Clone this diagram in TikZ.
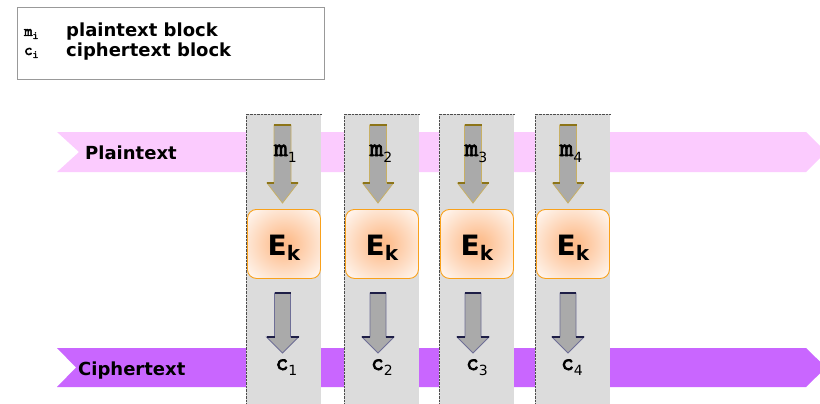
\documentclass[tikz,border=0pt]{standalone}
\usepackage{fontspec}
\setmainfont{DejaVu Sans}
\newfontfamily\slabmono{lmmono10-regular.otf}[FakeBold=3]
\usetikzlibrary{positioning}
\definecolor{plainband}{HTML}{FBCBFE}
\definecolor{cipherband}{HTML}{C966FF}
\definecolor{colgray}{HTML}{DCDCDC}
\definecolor{arrowgray}{HTML}{AAAAAA}
\definecolor{plainedge}{HTML}{C8B064}
\definecolor{plaindark}{HTML}{8C7418}
\definecolor{cipheredge}{HTML}{6E6E96}
\definecolor{cipherdark}{HTML}{1E1E46}
\definecolor{encedge}{HTML}{F9A11B}
\definecolor{encglow}{HTML}{FDBA88}
\pgfdeclareradialshading{encshade}{\pgfpoint{0bp}{0bp}}{color(0bp)=(encglow); color(6bp)=(encglow!90!white); color(38bp)=(white); color(50bp)=(white)}
\tikzstyle{legend} = [draw=gray!80, rectangle, minimum width=307, minimum height=72, anchor=north west]
\tikzstyle{column} = [fill=colgray, rectangle, inner sep=0, minimum width=75, minimum height=290, anchor=north west]
\tikzstyle{enc} = [draw=encedge, line width=0.9pt, rectangle, rounded corners=9pt, shading=encshade, minimum width=73, minimum height=69, anchor=north west, text height=28pt, text depth=5pt, font=\bfseries\fontsize{28}{30}\selectfont]
\tikzstyle{bandtext} = [anchor=base west, inner sep=0, font=\bfseries\fontsize{18}{20}\selectfont]
\tikzstyle{blocktext} = [anchor=base, inner sep=0, font=\slabmono\fontsize{26}{26}\selectfont]
\newcommand{\lowsub}[2]{\raisebox{#1}{\normalfont\fontsize{14}{14}\selectfont #2}}

\begin{document}
\begin{tikzpicture}[x=1pt, y=-1pt]
\useasboundingbox (0,0) rectangle (820,404);
\clip (0,0) rectangle (820,404);

% legend
\node [legend] (legend) at (17,7) {};
\node [anchor=base west, inner sep=0, font=\slabmono\fontsize{16}{16}\selectfont] (mi) at (24,36) {m\raisebox{-3pt}{\fontsize{11}{11}\selectfont i}};
\node [anchor=base west, inner sep=0, font=\slabmono\fontsize{16}{16}\selectfont] (ci) at (24,55) {c\raisebox{-3pt}{\fontsize{11}{11}\selectfont i}};
\node [bandtext] (plainkey) at (66,37) {plaintext block};
\node [bandtext] (cipherkey) at (66,57) {ciphertext block};

% bands
\fill [plainband] (57,132) -- (806,132) -- (826,152) -- (806,172) -- (57,172) -- (79,152) -- cycle;
\fill [cipherband] (57,348) -- (806,348) -- (826,367.5) -- (806,387) -- (57,387) -- (76,367.5) -- cycle;
\node [bandtext] (plaintext) at (85,159) {Plaintext};
\node [bandtext] (ciphertext) at (78,375) {Ciphertext};

% one column per block
\foreach \i/\cx/\ax in {1/246/282.5, 2/344/378, 3/439/473, 4/535/568} {
  \node [column] (col\i) at (\cx,114) {};
  \draw [densely dotted, gray!60!black] (col\i.south west) -- (col\i.north west) -- (col\i.north east);
  % plaintext arrow
  \draw [fill=arrowgray, draw=plainedge, line width=0.8pt] (\ax-8.5,125) -- (\ax+8.5,125) -- (\ax+8.5,183) -- (\ax+15.5,183) -- (\ax,203) -- (\ax-15.5,183) -- (\ax-8.5,183) -- cycle;
  \draw [plaindark, line width=1.8pt] (\ax-8.5,125) -- (\ax+8.5,125) (\ax-15.5,183) -- (\ax-8.5,183) (\ax+8.5,183) -- (\ax+15.5,183);
  % ciphertext arrow
  \draw [fill=arrowgray, draw=cipheredge, line width=0.8pt] (\ax-8,293) -- (\ax+8,293) -- (\ax+8,337) -- (\ax+16,337) -- (\ax,353) -- (\ax-16,337) -- (\ax-8,337) -- cycle;
  \draw [cipherdark, line width=1.8pt] (\ax-8,293) -- (\ax+8,293) (\ax-16,337) -- (\ax-8,337) (\ax+8,337) -- (\ax+16,337);
  \node [blocktext] (m\i) at (\ax+3,156) {m\lowsub{-6pt}{\i}};
  \node [blocktext, font=\slabmono\fontsize{24}{24}\selectfont] (c\i) at (\ax+4,370) {c\lowsub{-5pt}{\i}};
  \node [enc] (enc\i) at (\cx+1,209) {E\raisebox{-5pt}{\fontsize{20}{20}\selectfont k}};
}

\end{tikzpicture}
\end{document}
